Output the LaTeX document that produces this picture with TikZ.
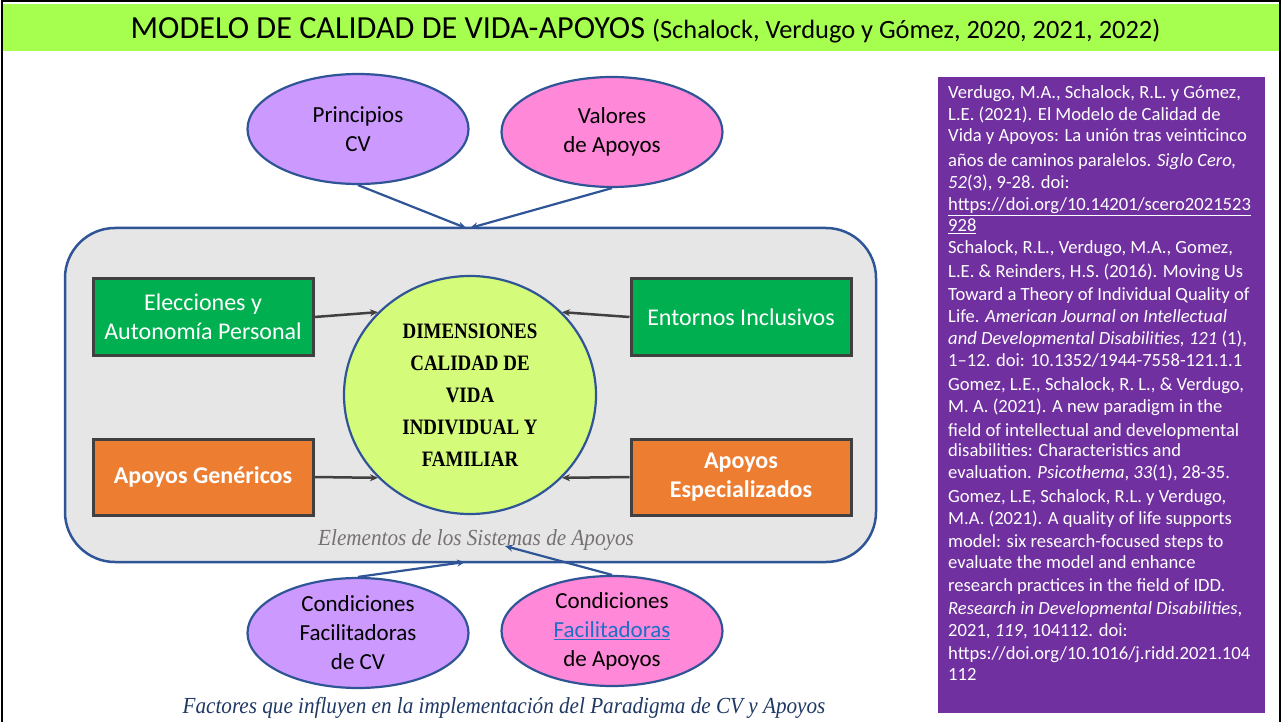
\documentclass[tikz,border=0pt]{standalone}
\usepackage{fontspec}
\setmainfont{Carlito}
\newfontfamily\capfont[FakeStretch=0.92]{Liberation Serif}
\newfontfamily\dimfont[FakeStretch=0.86]{Liberation Serif}
\usetikzlibrary{arrows.meta,shapes.geometric}
\definecolor{titlegreen}{HTML}{A6FF4F}
\definecolor{lilac}{HTML}{CC99FF}
\definecolor{pinkell}{HTML}{FF88D8}
\definecolor{edgeblue}{HTML}{2F5597}
\definecolor{boxgray}{HTML}{E7E6E6}
\definecolor{boxgreen}{HTML}{00B050}
\definecolor{boxorange}{HTML}{ED7D31}
\definecolor{darkedge}{HTML}{404040}
\definecolor{limefill}{HTML}{D5FB7A}
\definecolor{panelpurple}{HTML}{7030A0}
\definecolor{navytext}{HTML}{1F3864}
\definecolor{linkblue}{HTML}{1F6FC5}
\definecolor{captgray}{HTML}{767171}
\begin{document}
\begin{tikzpicture}[x=1pt,y=-1pt,
  ell/.style={ellipse,draw=edgeblue,line width=2.2pt,inner sep=0pt,
    minimum width=221pt,minimum height=110pt,align=center,
    font=\fontsize{23}{29}\selectfont},
  gbox/.style={rectangle,draw=darkedge,line width=3pt,fill=boxgreen,text=white,
    minimum width=220pt,minimum height=76pt,align=center,inner sep=0pt,
    font=\fontsize{24}{29}\selectfont},
  obox/.style={gbox,fill=boxorange,font=\fontsize{24}{29}\selectfont\bfseries},
  bluearrow/.style={draw=edgeblue,line width=2.2pt,-{Stealth[length=8pt,width=7pt]}},
  grayarrow/.style={draw=darkedge,line width=2.5pt,-{Stealth[length=8pt,width=7pt]}},
  ref/.style={anchor=base west,inner sep=0pt,text=white,font=\fontsize{18.6}{22}\selectfont}
]
\useasboundingbox (0,0) rectangle (1283,722);
\fill[white] (0,0) rectangle (1283,722);
% title bar
\fill[titlegreen] (3,4) rectangle (1279,51);
\draw[black,line width=2pt] (1.5,722) -- (1.5,1.5) -- (1279.5,1.5) -- (1279.5,722);
\node[inner sep=0pt] (title) at (645.5,30)
  {{\fontsize{32.2}{38}\selectfont MODELO DE CALIDAD DE VIDA-APOYOS}\hspace{7pt}{\fontsize{26.4}{30}\selectfont(Schalock, Verdugo y Gómez, 2020, 2021, 2022)}};

% system box
\node[draw=edgeblue,line width=2.5pt,fill=boxgray,rounded corners=50pt,
  minimum width=811pt,minimum height=334pt] (sys) at (470.5,395) {};
\node[text=captgray,inner sep=0pt,font=\capfont\itshape\fontsize{23}{26}\selectfont] (elem) at (476,540) {Elementos de los Sistemas de Apoyos};

% top ellipses
\node[ell,fill=lilac] (princ) at (358,129) {Principios\\CV};
\node[ell,fill=pinkell] (valor) at (612,132) {Valores\\de Apoyos};
% bottom ellipses
\node[ell,fill=lilac] (condcv) at (358,633) {Condiciones\\Facilitadoras\\de CV};
\node[ell,fill=pinkell] (condap) at (612,631) {Condiciones\\{\color{linkblue}\underline{Facilitadoras}}\\de Apoyos};

% boxes
\node[gbox] (elec) at (203,317) {Elecciones y\\Autonomía Personal};
\node[gbox] (ento) at (741,317) {Entornos Inclusivos};
\node[obox] (gene) at (203,477) {Apoyos Genéricos};
\node[obox] (espe) at (741,477) {Apoyos\\Especializados};

% central circle
\node[ellipse,draw=edgeblue,line width=2.2pt,fill=limefill,inner sep=0pt,
  minimum width=252pt,minimum height=238pt,align=center,
  font=\dimfont\bfseries\fontsize{22}{32}\selectfont] (circ) at (470,395)
  {DIMENSIONES\\CALIDAD DE\\VIDA\\INDIVIDUAL Y\\FAMILIAR};

% connectors
\coordinate (tipA) at (466,228);
\coordinate (tipB) at (470,228);
\coordinate (tipC) at (465,562);
\coordinate (tipD) at (505,546);
\draw[bluearrow] (princ.south) -- (tipA);
\draw[bluearrow] (valor.south) -- (tipB);
\draw[bluearrow] (condcv.north) -- (tipC);
\draw[bluearrow] (condap.north) -- (tipD);
\draw[grayarrow] (elec.east) -- (circ.138);
\draw[grayarrow] (ento.west) -- (circ.42);
\draw[grayarrow] (gene.east) -- (circ.222);
\draw[grayarrow] (espe.west) -- (circ.318);

% caption
\node[text=navytext,inner sep=0pt,font=\capfont\itshape\fontsize{23}{26}\selectfont] (fact) at (504,708)
  {Factores que influyen en la implementación del Paradigma de CV y Apoyos};

% reference panel
\fill[panelpurple] (938,77) rectangle (1265,713);
\node[ref] (r1) at (948,99) {Verdugo, M.A., Schalock, R.L. y Gómez,};
\node[ref] (r2) at (948,121) {L.E. (2021). El Modelo de Calidad de};
\node[ref] (r3) at (948,142) {Vida y Apoyos: La unión tras veinticinco};
\node[ref] (r4) at (948,167) {años de caminos paralelos. \textit{Siglo Cero,}};
\node[ref] (r5) at (948,189) {\textit{52}(3), 9-28. doi:};
\node[ref] (r6) at (948,211) {\underline{https://doi.org/10.14201/scero2021523}};
\node[ref] (r7) at (948,232) {\underline{928}};
\node[ref] (r8) at (948,254) {Schalock, R.L., Verdugo, M.A., Gomez,};
\node[ref] (r9) at (948,277) {L.E. \& Reinders, H.S. (2016). Moving Us};
\node[ref] (r10) at (948,300) {Toward a Theory of Individual Quality of};
\node[ref] (r11) at (948,322) {Life. \textit{American Journal on Intellectual}};
\node[ref] (r12) at (948,344) {\textit{and Developmental Disabilities, 121} (1),};
\node[ref] (r13) at (948,366) {1–12. doi: 10.1352/1944-7558-121.1.1};
\node[ref] (r14) at (948,390) {Gomez, L.E., Schalock, R. L., \& Verdugo,};
\node[ref] (r15) at (948,412) {M. A. (2021). A new paradigm in the};
\node[ref] (r16) at (948,436) {field of intellectual and developmental};
\node[ref] (r17) at (948,456) {disabilities: Characteristics and};
\node[ref] (r18) at (948,478) {evaluation. \textit{Psicothema}, \textit{33}(1), 28-35.};
\node[ref] (r19) at (948,502) {Gomez, L.E, Schalock, R.L. y Verdugo,};
\node[ref] (r20) at (948,524) {M.A. (2021). A quality of life supports};
\node[ref] (r21) at (948,547) {model: six research-focused steps to};
\node[ref] (r22) at (948,568) {evaluate the model and enhance};
\node[ref] (r23) at (948,591) {research practices in the field of IDD.};
\node[ref] (r24) at (948,614) {\textit{Research in Developmental Disabilities},};
\node[ref] (r25) at (948,636) {2021, \textit{119}, 104112. doi:};
\node[ref] (r26) at (948,659) {https://doi.org/10.1016/j.ridd.2021.104};
\node[ref] (r27) at (948,680) {112};
\end{tikzpicture}
\end{document}
